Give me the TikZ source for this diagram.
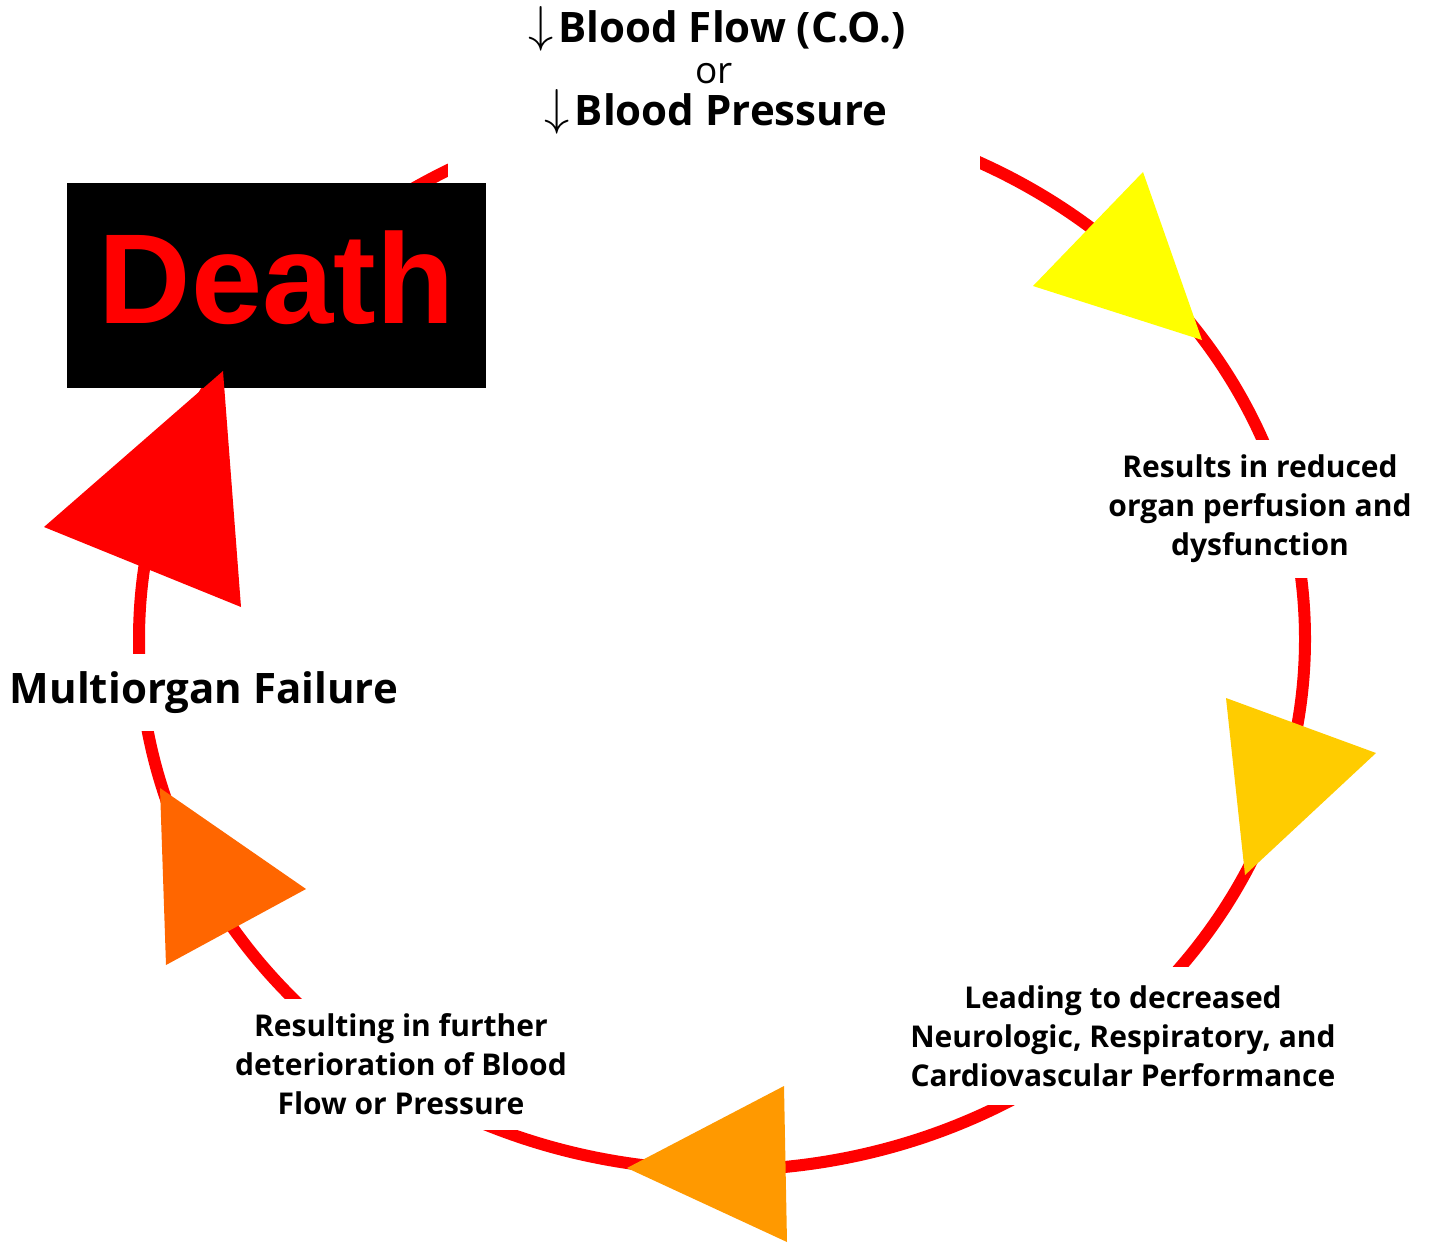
\documentclass[tikz,border=0pt]{standalone}
\usepackage{fix-cm}
\usepackage{fontspec}
\setmainfont{Open Sans}
\newfontfamily\deathfont{Liberation Sans}
\definecolor{headA}{HTML}{FFFF00}
\definecolor{headB}{HTML}{FFCC00}
\definecolor{headC}{HTML}{FF9900}
\definecolor{headD}{HTML}{FF6600}
\definecolor{headE}{HTML}{FF0000}
\newcommand{\dnarrow}{\raisebox{1pt}{\scalebox{1.2}{$\downarrow$}}\hspace{5pt}}
\begin{document}
\begin{tikzpicture}[x=1pt,y=-1pt,
    stage/.style={fill=white,align=center,inner xsep=4pt,inner ysep=0pt,
      font=\bfseries\fontsize{30}{39}\selectfont},
    headline/.style={anchor=base,inner sep=0pt,font=\bfseries\fontsize{42}{48}\selectfont}]
    \useasboundingbox (0,0) rectangle (1433,1243);
    % the cycle
    \draw[red,line width=12pt] (722,639) ellipse [x radius=583,y radius=531];
    \fill[white] (448,0) rectangle (980,180);
    \node[headline] (flow) at (717,42) {\dnarrow Blood Flow (C.O.)};
    \node[anchor=base,inner sep=0pt,font=\fontsize{37}{40}\selectfont] (or) at (714,83) {or};
    \node[headline] (pressure) at (716,125) {\dnarrow Blood Pressure};
    \node[stage,minimum height=138pt] (perfusion) at (1260,509) {Results in reduced\\organ perfusion and\\dysfunction};
    \node[stage,minimum height=138pt] (performance) at (1123,1036) {Leading to decreased\\Neurologic, Respiratory, and\\Cardiovascular Performance};
    \node[stage,minimum height=131pt] (deterioration) at (401,1064.5) {Resulting in further\\deterioration of Blood\\Flow or Pressure};
    \node[fill=white,inner xsep=4pt,inner ysep=0pt,minimum height=77pt,font=\bfseries\fontsize{42}{50}\selectfont] (failure) at (204,692.5) {Multiorgan Failure};
    \node[fill=black,text=red,inner sep=0pt,minimum width=419pt,minimum height=205pt,text depth=16pt,
      font=\deathfont\bfseries\fontsize{128}{128}\selectfont] (death) at (276.5,285.5) {Death};
    % arrow heads
    \fill[headA] (1143,172) -- (1033,286) -- (1202,340) -- cycle;
    \fill[headB] (1226,698) -- (1376,753) -- (1245,875) -- cycle;
    \fill[headC] (784,1086) -- (627,1168) -- (787,1242) -- cycle;
    \fill[headD] (160,788) -- (306,889) -- (166,965) -- cycle;
    \fill[headE] (223,371) -- (44,527) -- (241,607) -- cycle;
\end{tikzpicture}
\end{document}
